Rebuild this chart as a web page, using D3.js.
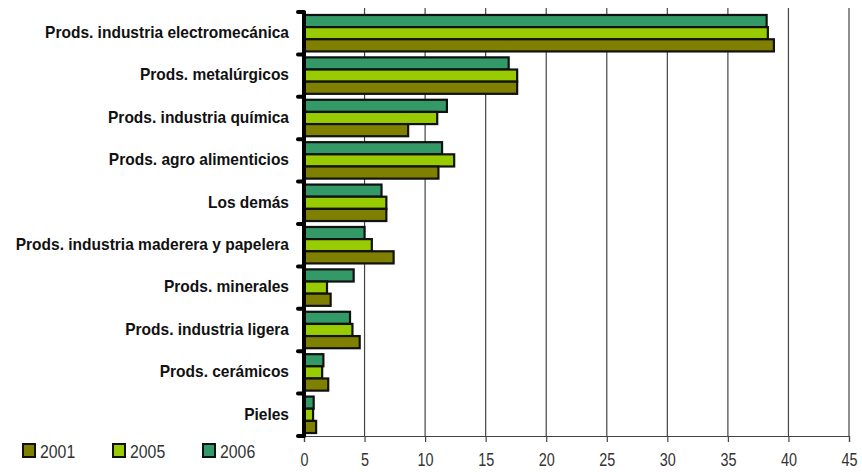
<!DOCTYPE html>
<html>
<head>
<meta charset="utf-8">
<title>Exportaciones por rubro</title>
<script src="https://cdn.jsdelivr.net/npm/d3@7"></script>
<style>
  body { margin: 0; background: #fff; }
  .cat text { font-family: "Liberation Sans", Arial, sans-serif; font-weight: bold; font-size: 16.5px; fill: #111; }
  .xaxis text, .legend text { font-family: "Liberation Sans Narrow", "Arial Narrow", "Liberation Sans", sans-serif; font-size: 19px; fill: #333; }
</style>
</head>
<body>
<div id="chart"></div>
<script>
var width = 862, height = 472;

var categories = [
  "Prods. industria electromecánica",
  "Prods. metalúrgicos",
  "Prods. industria química",
  "Prods. agro alimenticios",
  "Los demás",
  "Prods. industria maderera y papelera",
  "Prods. minerales",
  "Prods. industria ligera",
  "Prods. cerámicos",
  "Pieles"
];
var years = ["2006", "2005", "2001"]; // order of bars inside a group, top to bottom
var legendYears = ["2001", "2005", "2006"];
var v2001 = [38.8, 17.6, 8.6, 11.1, 6.8, 7.4, 2.2, 4.6, 2.0, 1.0];
var v2005 = [38.3, 17.6, 11.0, 12.4, 6.8, 5.6, 1.9, 4.0, 1.5, 0.75];
var v2006 = [38.2, 16.9, 11.8, 11.4, 6.4, 5.0, 4.1, 3.8, 1.6, 0.8];
var xTicks = [0, 5, 10, 15, 20, 25, 30, 35, 40, 45];

var colors = { "2001": "#808000", "2005": "#99cc00", "2006": "#339966" };
var values = { "2001": v2001, "2005": v2005, "2006": v2006 };

// note: "top" is taken by window.top, so use other names
var mLeft = 304, mRight = 849, mTop = 12, mBottom = 436;

var svg = d3.select("#chart").append("svg")
  .attr("width", width).attr("height", height);

var x = d3.scaleLinear().domain([0, 45]).range([mLeft, mRight]);
var y = d3.scaleBand().domain(categories).range([mTop, mBottom])
  .paddingInner(0.14).paddingOuter(0.07);
var yInner = d3.scaleBand().domain(years).range([0, y.bandwidth()]);

// narrow glyphs, like the original's condensed font
function squeeze(sel, perChar) {
  sel.attr("textLength", function() { return this.textContent.length * perChar; })
    .attr("lengthAdjust", "spacingAndGlyphs");
}
function squeezeBy(sel, k) {
  sel.attr("textLength", function() { return this.getComputedTextLength() * k; })
    .attr("lengthAdjust", "spacingAndGlyphs");
}

// grid + bottom axis
var xAxis = svg.append("g").attr("class", "xaxis")
  .attr("transform", "translate(0," + mBottom + ")")
  .call(d3.axisBottom(x).tickValues(xTicks).tickSize(6).tickPadding(8));
xAxis.select(".domain").attr("stroke", "#444").attr("stroke-width", 1.2);
xAxis.selectAll(".tick line").attr("stroke", "#444").attr("stroke-width", 1.2);
xAxis.selectAll(".tick text").attr("dy", "0.85em").call(squeeze, 8);

svg.append("g").selectAll("line").data(xTicks.filter(function(d) { return d > 0; }))
  .enter().append("line")
  .attr("x1", function(d) { return x(d); }).attr("x2", function(d) { return x(d); })
  .attr("y1", mTop - 4).attr("y2", mBottom)
  .attr("stroke", "#444").attr("stroke-width", 1.2);

// bars
var groups = svg.append("g").selectAll("g").data(categories).enter().append("g")
  .attr("transform", function(d) { return "translate(0," + y(d) + ")"; });

groups.selectAll("rect").data(function(d, i) {
    return years.map(function(yr) { return { year: yr, value: values[yr][i] }; });
  })
  .enter().append("rect")
  .attr("x", x(0))
  .attr("y", function(d) { return yInner(d.year); })
  .attr("width", function(d) { return x(d.value) - x(0); })
  .attr("height", yInner.bandwidth())
  .attr("fill", function(d) { return colors[d.year]; })
  .attr("stroke", "#111").attr("stroke-width", 2.2);

// category axis: thick line with short ticks at group boundaries
var bounds = categories.map(function(d) { return y(d) - y.step() * y.paddingInner() / 2; });
bounds.push(mBottom);
svg.append("line").attr("x1", mLeft).attr("x2", mLeft).attr("y1", mTop - 1).attr("y2", mBottom)
  .attr("stroke", "#000").attr("stroke-width", 4);
svg.append("g").selectAll("line").data(bounds).enter().append("line")
  .attr("x1", mLeft - 6).attr("x2", mLeft)
  .attr("y1", function(d) { return d; }).attr("y2", function(d) { return d; })
  .attr("stroke", "#000").attr("stroke-width", 4).attr("stroke-linecap", "round");

svg.append("g").attr("class", "cat").selectAll("text").data(categories).enter().append("text")
  .attr("x", mLeft - 15)
  .attr("y", function(d) { return y(d) + y.bandwidth() / 2 - 1; })
  .attr("dy", "0.35em")
  .attr("text-anchor", "end")
  .text(function(d) { return d; })
  .call(squeezeBy, 0.94);

// legend
var legendX = [23, 113, 203];
var legend = svg.append("g").attr("class", "legend").selectAll("g").data(legendYears).enter().append("g")
  .attr("transform", function(d, i) { return "translate(" + legendX[i] + ",444)"; });
legend.append("rect").attr("width", 12).attr("height", 13)
  .attr("fill", function(d) { return colors[d]; })
  .attr("stroke", "#111").attr("stroke-width", 2);
legend.append("text").attr("x", 17).attr("y", 7).attr("dy", "0.35em")
  .text(function(d) { return d; })
  .call(squeeze, 8.8);
</script>
</body>
</html>
